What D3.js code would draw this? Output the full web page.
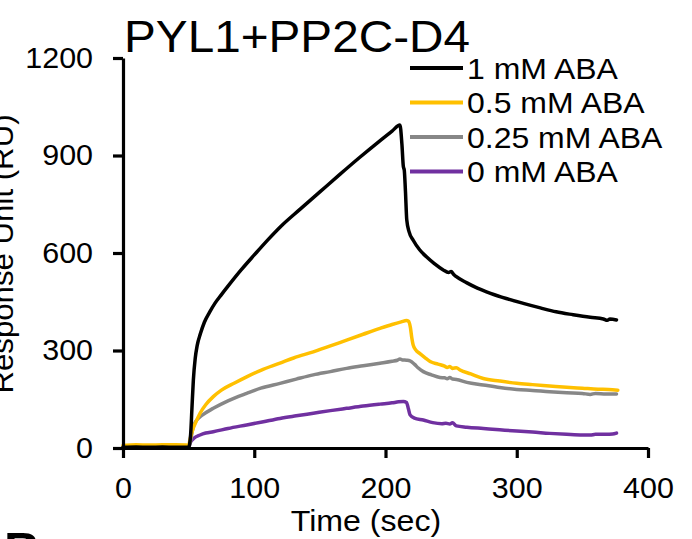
<!DOCTYPE html>
<html>
<head>
<meta charset="utf-8">
<script src="https://cdn.jsdelivr.net/npm/d3@7"></script>
<style>
  html, body { margin: 0; padding: 0; background: #fff; }
  svg { display: block; font-family: "Liberation Sans", Arial, sans-serif; }
</style>
</head>
<body>
<svg id="chart" width="692" height="539"></svg>
<script>
// ---- data (time in sec, response in RU) ----
const seriesNames = ["1 mM ABA", "0.5 mM ABA", "0.25 mM ABA", "0 mM ABA"];
const seriesColors = ["#000000", "#FFC000", "#878787", "#7030A0"];

const aba1mM = [[0,2],[10,3],[20,2],[30,3],[40,2],[50,2],[51.5,40],[52.5,120],[53.6,209],[55,275],[56.5,315],[59,352],[62,387],[66,418],[70,445],[75,472],[80,498],[90,548],[100,594],[110,639],[120,681],[135,735],[150,788],[165,841],[180,893],[195,943],[205,975],[211,994],[212.5,935],[213.6,866],[214.3,855],[215.2,790],[216.2,702],[218,665],[221,640],[226,610],[231,589],[237,568],[244,548],[248,540],[250,543],[252,534],[254,527],[262,508],[270,492],[280,476],[292,460],[305,445],[318,431],[330,419],[343,410],[356,402],[366,397],[369,393],[371,397],[376,394]];

const aba05mM = [[0,8],[10,10],[20,9],[30,10],[40,10],[48,9],[50,8],[51,25],[53,55],[55,75],[58.7,107],[63,133],[68.8,158],[75,178],[85,200],[94.2,219],[105,239],[119.6,261],[130,277],[145,296],[158,314],[170.4,332],[183,350],[195.8,368],[205,380],[212,388],[216,392],[217.5,390],[219,370],[220,340],[221,318],[223,302],[226,291],[230,278],[234,266],[240,258],[245,252],[247,248],[249,251],[251,245],[254,247],[256.8,240],[265,228],[274.5,214],[287,206],[300,199],[312,195],[325,191],[338,187],[350,184],[362,181],[370,180],[377,178]];

const aba025mM = [[0,3],[10,4],[20,3],[30,3],[40,3],[50,3],[51,15],[53.6,66],[56,85],[60,100],[68.8,122],[80,145],[94.2,168],[105,184],[119.6,199],[132,212],[145,225],[158,235],[170.4,245],[183,253],[195.8,261],[205,267],[209,270],[211,274],[213,271],[216,270],[218.7,268],[222,258],[225,246],[228.8,235],[235,225],[241.5,217],[245,216],[247,213],[249,217],[251,212],[254,211],[262,202],[274.5,194],[287,186],[300,180],[312,177],[325,173],[338,170],[350,168],[356,165],[360,168],[368,166],[376,166]];

const aba0mM = [[0,0],[10,0],[20,0],[30,0],[40,0],[50,0],[51,14],[54,30],[58.7,40],[63,46],[68.8,50],[80,60],[94.2,71],[107,81],[119.6,91],[132,99],[145,107],[158,115],[170.4,122],[183,129],[195.8,135],[205,139],[210,142],[213.6,143],[216,140],[217.5,120],[218.7,102],[222,92],[228.8,86],[236,78],[243,75],[246,76],[249,74],[251,78],[254,68],[262,64],[274.5,60],[287,56],[300,52],[312,49],[325,45],[338,42],[350,40],[356,40],[360,42],[368,42],[373,43],[376,46]];

const xTicks = [0, 100, 200, 300, 400];
const yTicks = [0, 300, 600, 900, 1200];
const titleText = "PYL1+PP2C-D4";
const xLabel = "Time (sec)";
const yLabel = "Response Unit (RU)";

// ---- drawing ----
const svg = d3.select("#chart");
const x = d3.scaleLinear().domain([0, 400]).range([123, 648]);
const y = d3.scaleLinear().domain([0, 1200]).range([448, 58]);

const allSeries = [aba1mM, aba05mM, aba025mM, aba0mM];

// widen glyphs slightly to match reference typeface proportions
function widen(sel, f) {
  sel.each(function() {
    const w = this.getComputedTextLength();
    d3.select(this).attr("textLength", w * f).attr("lengthAdjust", "spacingAndGlyphs");
  });
}

const line = d3.line().x(d => x(d[0])).y(d => y(d[1])).curve(d3.curveMonotoneX);
const drawOrder = [3, 2, 1, 0];
drawOrder.forEach(i => {
  svg.append("path")
    .datum(allSeries[i])
    .attr("fill", "none")
    .attr("stroke", seriesColors[i])
    .attr("stroke-width", 3.5)
    .attr("stroke-linejoin", "round")
    .attr("stroke-linecap", "round")
    .attr("d", line);
});

// axes
const yAxis = svg.append("g")
  .attr("transform", `translate(${x(0)},0)`)
  .call(d3.axisLeft(y).tickValues(yTicks).tickSize(10).tickSizeOuter(0).tickPadding(20).tickFormat(d3.format("d")));
const xAxis = svg.append("g")
  .attr("transform", `translate(0,${y(0)})`)
  .call(d3.axisBottom(x).tickValues(xTicks).tickSize(10).tickSizeOuter(0).tickPadding(19).tickFormat(d3.format("d")));

[yAxis, xAxis].forEach(g => {
  g.select(".domain").attr("stroke", "#000").attr("stroke-width", 3.2);
  g.selectAll(".tick line").attr("stroke", "#000").attr("stroke-width", 3.2);
  g.selectAll(".tick text")
    .attr("fill", "#000")
    .style("font-family", '"Liberation Sans", Arial, sans-serif')
    .style("font-size", "29px")
    .call(widen, 1.05);
});

// title
svg.append("text")
  .attr("x", 124)
  .attr("y", 52)
  .style("font-size", "45px")
  .attr("fill", "#000")
  .text(titleText)
  .call(widen, 1.06);

// axis labels
svg.append("text")
  .attr("x", 366)
  .attr("y", 531)
  .attr("text-anchor", "middle")
  .style("font-size", "30px")
  .attr("fill", "#000")
  .text(xLabel)
  .call(widen, 1.07);

svg.append("text")
  .attr("transform", "translate(13,254) rotate(-90)")
  .attr("text-anchor", "middle")
  .style("font-size", "30px")
  .attr("fill", "#000")
  .text(yLabel)
  .call(widen, 1.04);

// legend
const legendY = [68, 102.5, 137, 171.5];
seriesNames.forEach((name, i) => {
  svg.append("line")
    .attr("x1", 410).attr("x2", 463)
    .attr("y1", legendY[i]).attr("y2", legendY[i])
    .attr("stroke", seriesColors[i])
    .attr("stroke-width", 4);
  svg.append("text")
    .attr("x", 467)
    .attr("y", legendY[i])
    .attr("dy", "0.36em")
    .style("font-size", "30px")
    .attr("fill", "#000")
    .text(name)
    .call(widen, 1.065);
});

// next panel letter (partially visible at the bottom edge)
svg.append("text")
  .attr("x", 4)
  .attr("y", 568)
  .style("font-size", "50px")
  .style("font-weight", "bold")
  .attr("fill", "#000")
  .text("B");
</script>
</body>
</html>
